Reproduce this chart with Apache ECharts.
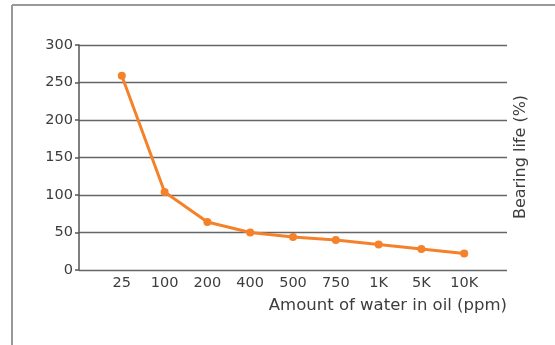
<!DOCTYPE html>
<html>
<head>
<meta charset="utf-8">
<script src="https://cdn.jsdelivr.net/npm/echarts@6/dist/echarts.min.js"></script>
<style>
  html, body { margin: 0; padding: 0; background: #fff; }
  #chart { width: 555px; height: 345px; }
</style>
</head>
<body>
<div id="chart"></div>
<script>
// water content categories (blank ends give the padding seen on the axis)
const waterLevels = ['', '25', '100', '200', '400', '500', '750', '1K', '5K', '10K', ''];
const bearingLife = [null, 259, 104, 64, 50, 44, 40, 34, 28, 22, null];
const yTicks = [0, 50, 100, 150, 200, 250, 300];

const FONT = 'DejaVu Sans';
const TEXT = '#3d3d3d';

const chart = echarts.init(document.getElementById('chart'));
chart.setOption({
    animation: false,
    grid: { left: 79, right: 48, top: 45, bottom: 75 },
    xAxis: {
        type: 'category',
        data: waterLevels,
        boundaryGap: false,
        axisLine: { show: false },
        axisTick: { show: false },
        axisLabel: { color: TEXT, fontFamily: FONT, fontSize: 14.5, margin: 6, interval: 0 },
        name: 'Amount of water in oil (ppm)',
        nameLocation: 'end',
        nameGap: 0,
        nameTextStyle: {
            color: TEXT, fontFamily: FONT, fontSize: 16.5,
            align: 'right', verticalAlign: 'top', padding: [27, 0, 0, 0],
        },
    },
    yAxis: {
        type: 'value',
        min: yTicks[0],
        max: yTicks[yTicks.length - 1],
        interval: 50,
        axisLine: { show: true, lineStyle: { color: '#555', width: 1.5 } },
        axisTick: { show: true, length: 4, lineStyle: { color: '#555', width: 1.5 } },
        axisLabel: { color: TEXT, fontFamily: FONT, fontSize: 14.5, margin: 6 },
        splitLine: { lineStyle: { color: '#666', width: 1.3 } },
    },
    series: [{
        type: 'line',
        data: bearingLife,
        connectNulls: false,
        symbol: 'circle',
        symbolSize: 8,
        lineStyle: { color: '#F5822A', width: 3 },
        itemStyle: { color: '#F5822A' },
    }],
    graphic: [
        { type: 'line', shape: { x1: 12, y1: 5, x2: 555, y2: 5 }, style: { stroke: '#999', lineWidth: 2 } },
        { type: 'line', shape: { x1: 12, y1: 5, x2: 12, y2: 345 }, style: { stroke: '#999', lineWidth: 2 } },
        {
            type: 'text',
            x: 521, y: 157, rotation: Math.PI / 2,
            style: {
                text: 'Bearing life (%)', fill: TEXT, font: '16px ' + FONT,
                align: 'center', verticalAlign: 'middle',
            },
        },
    ],
});
</script>
</body>
</html>
